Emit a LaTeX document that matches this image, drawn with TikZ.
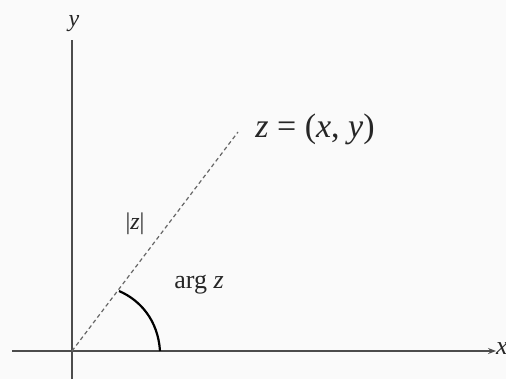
\documentclass[tikz,border=0pt]{standalone}
\usepackage{fontspec}
\setmainfont{Liberation Serif}
\usetikzlibrary{arrows.meta}
\begin{document}
\begin{tikzpicture}[x=0.5pt,y=-0.5pt,
  axis/.style={draw=black!70, line width=0.8pt},
  radius/.style={draw=black!60, line width=0.6pt, dash pattern=on 2pt off 1.5pt},
  anglearc/.style={draw=black, line width=1.1pt},
  lbl/.style={inner sep=0pt, text=black!85}]
\fill[black!2] (0,0) rectangle (506,379);
\useasboundingbox (0,0) rectangle (506,379);
\coordinate (O) at (72,351);
\coordinate (xl) at (12,351);
\coordinate (xr) at (496,351);
\coordinate (yb) at (72,379);
\coordinate (yt) at (72,40);
\coordinate (P) at (238,132);
\coordinate (A1) at (160,351);
\coordinate (A2) at (119,291);
\draw[axis, -{Stealth[length=4pt,width=3pt]}] (xl) -- (xr);
\draw[axis] (yb) -- (yt);
\draw[radius] (O) -- (P);
\draw[anglearc] (A1) .. controls (158,320) and (140,300) .. (A2);
\node[lbl, font=\fontsize{12}{12}\selectfont\itshape] (ylab) at (74,24) {y};
\node[lbl, font=\fontsize{13}{13}\selectfont\itshape] (xlab) at (502,349) {x};
\node[lbl, font=\fontsize{17}{17}\selectfont, anchor=west] (zlab) at (255,129) {\textit{z} = (\textit{x}, \textit{y})};
\node[lbl, font=\fontsize{12}{12}\selectfont] (modlab) at (135,224) {|\textit{z}|};
\node[lbl, font=\fontsize{13}{13}\selectfont] (arglab) at (199,285) {arg \textit{z}};
\end{tikzpicture}
\end{document}
